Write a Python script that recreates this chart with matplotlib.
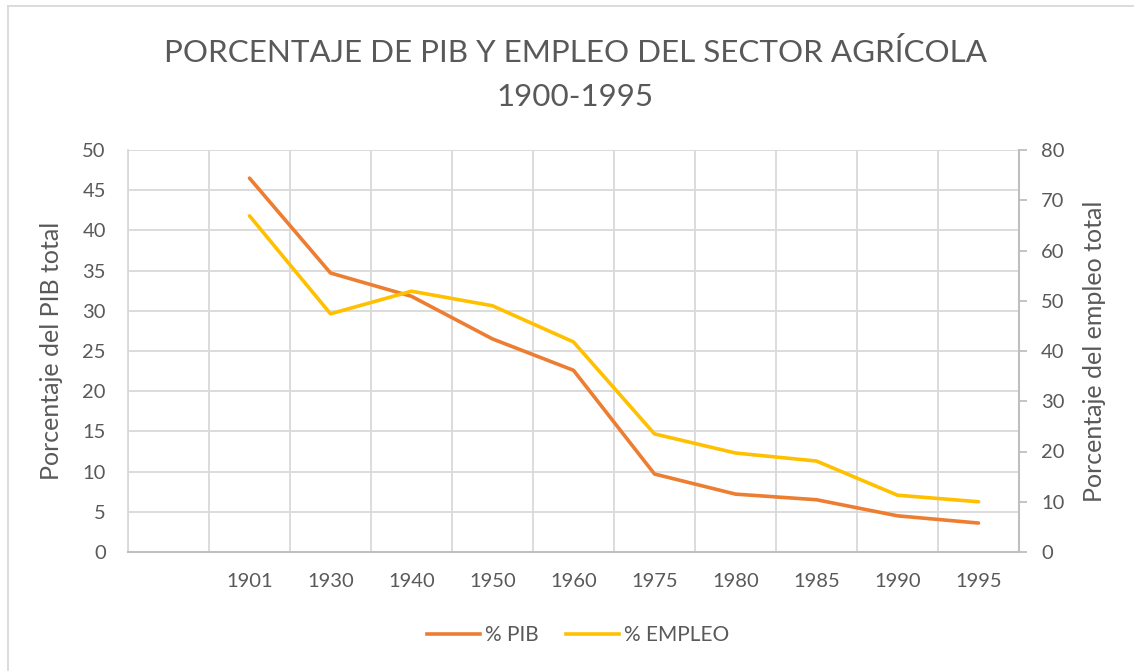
import numpy as np
import matplotlib.pyplot as plt
from matplotlib.lines import Line2D

#Data:-------------------------------------------------------------------------

years = ["", "1901", "1930", "1940", "1950", "1960", "1975", "1980", "1985", "1990", "1995"]
pib = [np.nan, 46.5, 34.7, 31.8, 26.5, 22.6, 9.7, 7.2, 6.5, 4.5, 3.6]
empleo = [np.nan, 66.9, 47.4, 51.9, 49.0, 41.8, 23.5, 19.7, 18.1, 11.3, 10.0]

#Style:------------------------------------------------------------------------

plt.rcParams['font.family'] = ['Lato', 'DejaVu Sans']
text_color = "#595959"
grid_color = "#D9D9D9"
axis_color = "#BFBFBF"
c_pib = "#ED7D31"
c_emp = "#FFC000"

fig = plt.figure(figsize=(11.34, 6.71), dpi=100)
ax = fig.add_axes([128/1134, 1-552/671, 891/1134, 402/671])
ax2 = ax.twinx()

x = np.arange(len(years))
ax.plot(x, pib, color=c_pib, lw=2.6, solid_capstyle='round', solid_joinstyle='round', zorder=3)
ax2.plot(x, empleo, color=c_emp, lw=2.6, solid_capstyle='round', solid_joinstyle='round', zorder=3)

ax.set_xlim(-0.5, len(years)-0.5)
ax.set_ylim(0, 50)
ax2.set_ylim(0, 80)
ax.set_yticks(np.arange(0, 51, 5))
ax2.set_yticks(np.arange(0, 81, 10))
ax.set_xticks(x)
ax.set_xticklabels(years)
ax.set_xticks(np.arange(-0.5, len(years)), minor=True)

ax.grid(True, which='minor', axis='x', color=grid_color, lw=1.3)
ax.grid(True, which='major', axis='y', color=grid_color, lw=1.3)
ax.set_axisbelow(True)

ax.spines["top"].set_visible(False)
ax2.spines["top"].set_visible(False)
ax.spines["left"].set_color(grid_color)
ax.spines["left"].set_linewidth(1.3)
ax.spines["bottom"].set_color(axis_color)
ax.spines["bottom"].set_linewidth(1.5)
ax2.spines["left"].set_visible(False)
ax2.spines["bottom"].set_visible(False)
ax2.spines["right"].set_color(axis_color)
ax2.spines["right"].set_linewidth(1.5)
ax.spines["right"].set_visible(False)

ax.tick_params(axis='both', which='both', length=0, labelsize=14.5, colors=text_color)
ax.tick_params(axis='y', pad=16)
ax.tick_params(axis='x', pad=15)
ax2.tick_params(axis='y', length=6, width=1.3, color=axis_color, labelsize=14.5,
                labelcolor=text_color, pad=10)

ax.set_ylabel("Porcentaje del PIB total", fontsize=18, color=text_color, labelpad=14)
ax2.set_ylabel("Porcentaje del empleo total", fontsize=18, color=text_color, labelpad=13)

fig.text(575/1134, 1-52/671, "PORCENTAJE DE PIB Y EMPLEO DEL SECTOR AGRÍCOLA",
         ha='center', va='center', fontsize=22.6, color=text_color)
fig.text(575/1134, 1-97/671, "1900-1995",
         ha='center', va='center', fontsize=22.6, color=text_color)

handles = [Line2D([], [], color=c_pib, lw=2.6), Line2D([], [], color=c_emp, lw=2.6)]
fig.legend(handles, ["% PIB", "% EMPLEO"], loc='center', bbox_to_anchor=(578/1134, 1-635/671),
           ncol=2, frameon=False, fontsize=15, labelcolor=text_color,
           handlelength=2.55, handletextpad=0.25, columnspacing=1.3)

#Chart border:-----------------------------------------------------------------

fig.add_artist(Line2D([8/1134, 8/1134], [0, 1-6/671], color=grid_color, lw=1.3))
fig.add_artist(Line2D([8/1134, 1], [1-6/671, 1-6/671], color=grid_color, lw=1.3))

fig.savefig("out.png", dpi=100)
